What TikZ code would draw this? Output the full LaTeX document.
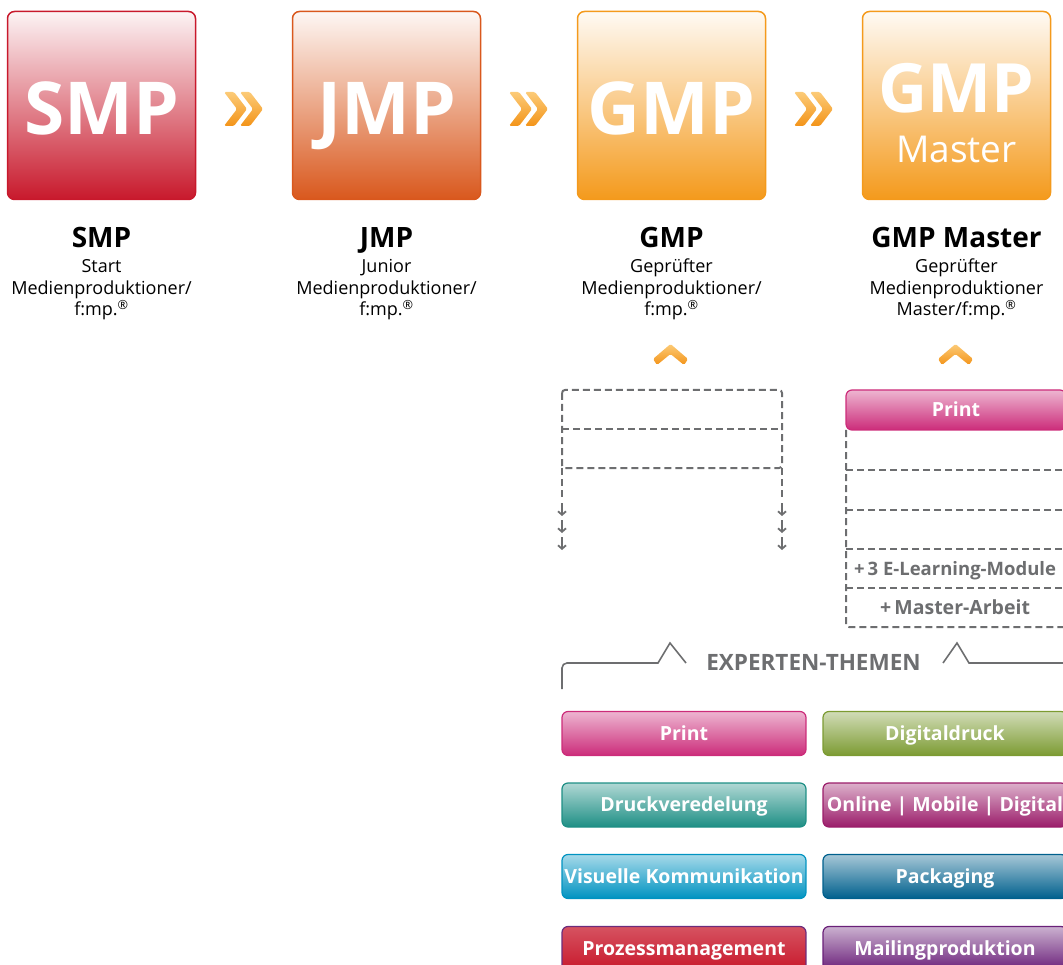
\documentclass[tikz,border=0pt]{standalone}
\usepackage{fontspec}
\setmainfont{Open Sans}
\usetikzlibrary{arrows.meta}

\definecolor{smpred}{HTML}{C8192C}
\definecolor{jmporange}{HTML}{D9581D}
\definecolor{gmporange}{HTML}{F49A1C}
\definecolor{chevlight}{HTML}{FCCB78}
\definecolor{chevdark}{HTML}{F39419}
\definecolor{dgray}{HTML}{6D6E70}
\definecolor{printpink}{HTML}{CC2C7A}
\definecolor{digigreen}{HTML}{7C9B32}
\definecolor{veredteal}{HTML}{1E8F85}
\definecolor{onlinemag}{HTML}{9B1D6A}
\definecolor{visblue}{HTML}{0093C1}
\definecolor{packblue}{HTML}{00608D}
\definecolor{prozred}{HTML}{C8192C}
\definecolor{prozborder}{HTML}{6B2C7D}
\definecolor{mailpurple}{HTML}{6A2079}

\tikzset{
  bigbox/.style={draw=#1, line width=1.5pt, rounded corners=7pt,
    minimum width=188pt, minimum height=188pt, inner sep=0pt,
    top color=#1!5!white, bottom color=#1},
  bigtxt/.style={text=white, anchor=base, inner sep=0pt,
    font=\fontsize{73}{73}\selectfont\bfseries},
  lvltitle/.style={anchor=base, inner sep=0pt,
    font=\fontsize{28}{30}\selectfont\bfseries},
  lvldesc/.style={anchor=base, inner sep=0pt, align=center,
    font=\fontsize{18}{21.5}\selectfont},
  btn/.style={draw=#1, line width=1.2pt, rounded corners=6pt,
    minimum width=244pt, minimum height=44pt, inner sep=0pt,
    top color=#1!35!white, middle color=#1, bottom color=#1,
    text=white, text height=15pt, text depth=2pt,
    font=\fontsize{19.5}{19.5}\selectfont\bfseries},
  dashbox/.style={draw=dgray, line width=2pt, dash pattern=on 7pt off 4pt},
  smallarrow/.style={draw=dgray, line width=1.8pt,
    -{Straight Barb[length=3.5pt,width=8pt]}},
  bracket/.style={draw=dgray, line width=1.6pt},
  graytxt/.style={text=dgray, anchor=base, inner sep=0pt,
    font=\fontsize{19}{19}\selectfont\bfseries},
  fwd/.pic={
    \shade[top color=chevlight, bottom color=chevdark, rounded corners=1.5pt]
      (0,0) -- (10,0) -- (23,17) -- (10,34) -- (0,34) -- (13,17) -- cycle;
    \shade[top color=chevlight, bottom color=chevdark, rounded corners=1.5pt]
      (16,0) -- (26,0) -- (39,17) -- (26,34) -- (16,34) -- (29,17) -- cycle;
  },
  upchev/.pic={
    \shade[top color=chevlight, bottom color=chevdark, rounded corners=1.5pt]
      (0,15) -- (17.5,0) -- (35,15) -- (31,21) -- (17.5,10) -- (4,21) -- cycle;
  }
}

\begin{document}
\begin{tikzpicture}[x=1pt,y=-1pt]
\useasboundingbox (0,0) rectangle (1063,965);
\clip (0,0) rectangle (1063,965);

% level boxes
\node[bigbox=smpred]    (smp)    at (101.5,105.5) {};
\node[bigbox=jmporange] (jmp)    at (386.5,105.5) {};
\node[bigbox=gmporange] (gmp)    at (671.5,105.5) {};
\node[bigbox=gmporange] (master) at (956.5,105.5) {};

\node[bigtxt] (smpT) at (101.5,135) {SMP};
\node[bigtxt] (jmpT) at (386.5,135) {JMP};
\node[bigtxt] (gmpT) at (671.5,135) {GMP};
\node[bigtxt, font=\fontsize{68}{68}\selectfont\bfseries] (masterT) at (956.5,113) {GMP};
\node[bigtxt, font=\fontsize{37}{37}\selectfont] (masterS) at (956.5,163) {Master};

% forward chevrons between the boxes
\pic at (224,92) {fwd};
\pic at (509,92) {fwd};
\pic at (794,92) {fwd};

% level names
\node[lvltitle] (smpN)    at (101.5,248) {SMP};
\node[lvltitle] (jmpN)    at (386.5,248) {JMP};
\node[lvltitle] (gmpN)    at (671.5,248) {GMP};
\node[lvltitle] (masterN) at (956.5,248) {GMP Master};

\node[lvldesc] (smpD)    at (101.5,316) {Start\\Medienproduktioner/\\f:mp.\textsuperscript{®}};
\node[lvldesc] (jmpD)    at (386.5,316) {Junior\\Medienproduktioner/\\f:mp.\textsuperscript{®}};
\node[lvldesc] (gmpD)    at (671.5,316) {Geprüfter\\Medienproduktioner/\\f:mp.\textsuperscript{®}};
\node[lvldesc] (masterD) at (956.5,316) {Geprüfter\\Medienproduktioner\\Master/f:mp.\textsuperscript{®}};

% up chevrons
\pic at (653,344) {upchev};
\pic at (938,344) {upchev};

% GMP module slots
\draw[dashbox, rounded corners=3pt] (562,390) rectangle (782,468);
\draw[dashbox] (562,429) -- (782,429);
\draw[dashbox] (562,468) -- (562,498);
\draw[dashbox] (782,468) -- (782,498);
\foreach \yy in {503,520,537} {
  \draw[smallarrow] (562,\yy) -- (562,\yy+13);
  \draw[smallarrow] (782,\yy) -- (782,\yy+13);
}

% GMP Master module slots
\node[btn=printpink, minimum width=220pt, minimum height=40pt] (mprint) at (956,410) {Print};
\draw[dashbox, rounded corners=3pt] (846,430) -- (846,627) -- (1075,627);
\foreach \yy in {470,510,549,588}
  \draw[dashbox] (846,\yy) -- (1075,\yy);
\node[graytxt, font=\fontsize{18.5}{18.5}\selectfont\bfseries] (elearn) at (955,575) {+\,3 E-Learning-Module};
\node[graytxt, font=\fontsize{19.5}{19.5}\selectfont\bfseries] (marbeit) at (955,614) {+\,Master-Arbeit};

% expert topics bracket
\draw[bracket] (562,689) -- (562,668) arc[start angle=180, end angle=270, radius=5]
  -- (658,663) -- (670,643) -- (686,663);
\draw[bracket] (943,663) -- (957,643) -- (969,663) -- (1075,663);
\node[graytxt, font=\fontsize{22.5}{22.5}\selectfont\bfseries] (expert) at (813.5,670) {EXPERTEN-THEMEN};

% expert topic buttons
\node[btn=printpink]  (tprint) at (684,733.5) {Print};
\node[btn=digigreen]  (tdigi)  at (945,733.5) {Digitaldruck};
\node[btn=veredteal]  (tvered) at (684,805)   {Druckveredelung};
\node[btn=onlinemag]  (tonl)   at (945,805)   {Online | Mobile | Digital};
\node[btn=visblue]    (tvis)   at (684,876.5) {Visuelle Kommunikation};
\node[btn=packblue]   (tpack)  at (945,876.5) {Packaging};
\node[btn=prozred, draw=prozborder, top color=prozred!75!white] (tproz) at (684,948.5) {Prozessmanagement};
\node[btn=mailpurple] (tmail)  at (945,948.5) {Mailingproduktion};

\end{tikzpicture}
\end{document}
